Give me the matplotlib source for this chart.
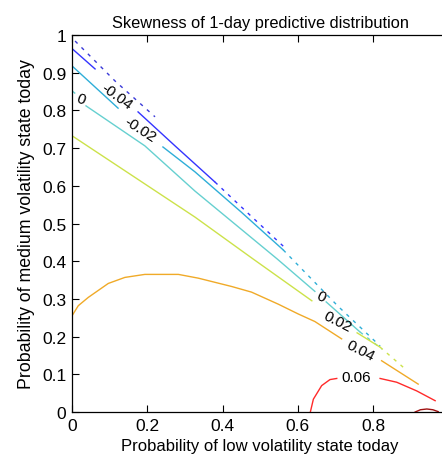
import numpy as np
import matplotlib
matplotlib.use("Agg")
from matplotlib import pyplot as plt

plt.rcParams['font.family'] = ['Liberation Sans', 'DejaVu Sans']

#Contour levels of the skewness surface
levels = [-0.06, -0.04, -0.02, 0.0, 0.02, 0.04, 0.06, 0.08]
colors = ['#3a3ad8', '#3434ff', '#2eaed8', '#66d0d0', '#cce24a', '#f0aa28', '#ff2a2a', '#a01010']

#Contour paths, one list of pieces per level: (x, y, solid?)
seg_m006 = [([0.009, 0.115, 0.221], [0.984, 0.878, 0.783], False)]
seg_m004 = [([0.002, 0.062], [0.963, 0.910], True),
            ([0.176, 0.274, 0.380], [0.796, 0.706, 0.610], True),
            ([0.380, 0.470, 0.561], [0.610, 0.525, 0.440], False)]
seg_m002 = [([0.002, 0.123], [0.917, 0.806], True),
            ([0.242, 0.327, 0.450, 0.561], [0.703, 0.637, 0.530, 0.430], True),
            ([0.561, 0.706, 0.818], [0.430, 0.281, 0.175], False)]
seg_0 = [([0.002, 0.008], [0.851, 0.846], True),
         ([0.038, 0.194, 0.327, 0.545, 0.645], [0.812, 0.706, 0.586, 0.406, 0.320], True),
         ([0.675, 0.765], [0.292, 0.212], True),
         ([0.765, 0.823], [0.212, 0.167], False)]
seg_002 = [([0.002, 0.327, 0.481, 0.637], [0.732, 0.517, 0.406, 0.295], True),
           ([0.757, 0.818], [0.210, 0.172], True),
           ([0.818, 0.879], [0.172, 0.119], False)]
seg_004 = [([0.002, 0.0175, 0.044, 0.097, 0.141, 0.194, 0.283, 0.336, 0.424,
             0.477, 0.548, 0.601, 0.645, 0.716],
            [0.257, 0.282, 0.304, 0.341, 0.357, 0.365, 0.365, 0.355, 0.333,
             0.318, 0.286, 0.260, 0.240, 0.194], True),
           ([0.822, 0.919], [0.136, 0.074], True)]
seg_006 = [([0.633, 0.641, 0.663, 0.685, 0.703], [0.0, 0.034, 0.070, 0.086, 0.089], True),
           ([0.818, 0.862, 0.915, 0.964], [0.089, 0.079, 0.056, 0.030], True)]
seg_008 = [([0.911, 0.925, 0.942, 0.958, 0.972], [0.0, 0.006, 0.008, 0.006, 0.001], True)]
segments = [seg_m006, seg_m004, seg_m002, seg_0, seg_002, seg_004, seg_006, seg_008]

#Inline labels: level, x, y, angle
label_levels = [-0.04, -0.02, 0.0, 0.0, 0.02, 0.04, 0.06]
label_x = [0.119, 0.181, 0.024, 0.661, 0.704, 0.765, 0.755]
label_y = [0.839, 0.751, 0.830, 0.308, 0.241, 0.164, 0.092]
label_rot = [-36, -33, -20, -25, -27, -27, 0]

fig = plt.figure(figsize=(4.42, 4.64), dpi=100)
ax = fig.add_axes([0.1622, 0.1099, 0.853, 0.8125])

for segs, col in zip(segments, colors):
    for xs, ys, solid in segs:
        if solid:
            ax.plot(xs, ys, color=col, lw=1.0)
        else:
            ax.plot(xs, ys, color=col, lw=1.0, linestyle=(0, (2.5, 4)))

for lev, lx, ly, rot in zip(label_levels, label_x, label_y, label_rot):
    txt = '0' if lev == 0 else ('%g' % lev)
    ax.text(lx, ly, txt, rotation=rot, ha='center', va='center',
            fontsize=11, color='black', rotation_mode='anchor')

ax.set_xlim(0, 1)
ax.set_ylim(0, 1)
ax.set_xticks(np.arange(0, 1.01, 0.2))
ax.set_yticks(np.arange(0, 1.01, 0.1))
# the x=1 label falls past the right edge of the figure
ax.set_xticklabels(['0', '0.2', '0.4', '0.6', '0.8', ''])
ax.set_yticklabels(['0', '0.1', '0.2', '0.3', '0.4', '0.5', '0.6', '0.7', '0.8', '0.9', '1'])
ax.tick_params(direction='in', length=5, width=0.8, top=True, right=True,
               labelsize=12.5, pad=4)
for sp in ax.spines.values():
    sp.set_linewidth(0.9)

ax.set_title('Skewness of 1-day predictive distribution', fontsize=11.8, pad=6)
ax.set_xlabel('Probability of low volatility state today', fontsize=12, labelpad=4)
ax.set_ylabel('Probability of medium volatility state today', fontsize=12.8, labelpad=5)

fig.savefig('out.png', dpi=100)
